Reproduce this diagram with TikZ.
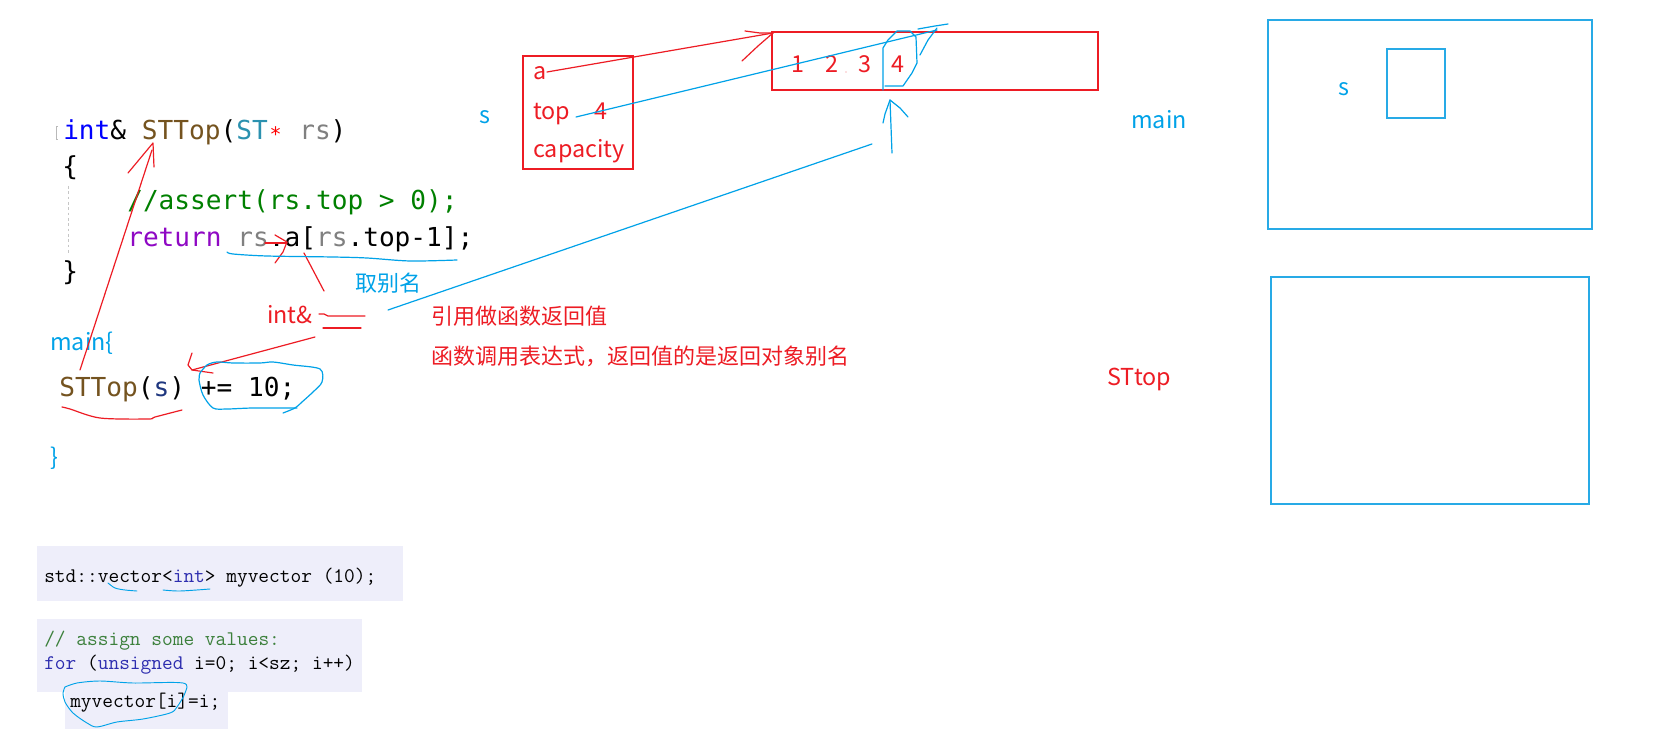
\documentclass[tikz,border=0pt]{standalone}
\usepackage{fontspec}
\usetikzlibrary{fit}
\newfontfamily\cjk{Noto Sans CJK SC}
\newfontfamily\codefont{DejaVu Sans Mono}
\definecolor{ared}{RGB}{237,28,36}
\definecolor{ablue}{RGB}{0,162,232}
\definecolor{kwblue}{RGB}{0,0,255}
\definecolor{fnbrown}{RGB}{116,83,31}
\definecolor{tyteal}{RGB}{43,145,175}
\definecolor{vgray}{RGB}{128,128,128}
\definecolor{cmgreen}{RGB}{0,128,0}
\definecolor{kwpurple}{RGB}{143,8,196}
\definecolor{pdark}{RGB}{31,55,127}
\definecolor{snipbg}{RGB}{238,238,250}
\definecolor{snipblue}{RGB}{45,45,175}
\definecolor{snipgreen}{RGB}{60,128,60}
\definecolor{boxblue}{RGB}{40,170,230}
\tikzset{
  code/.style={font=\codefont\fontsize{19.6}{24}\selectfont, anchor=base west, inner sep=0pt},
  ann/.style={font=\cjk\fontsize{16.5}{20}\selectfont, inner sep=0pt},
  annl/.style={font=\cjk\fontsize{17.5}{21}\selectfont, inner sep=0pt},
  snip/.style={font=\ttfamily\fontsize{15.6}{19}\selectfont, anchor=base west, inner sep=0pt},
  rstroke/.style={draw=ared, line width=0.9pt, line cap=round, line join=round},
  bstroke/.style={draw=ablue, line width=0.9pt, line cap=round, line join=round},
  redbox/.style={draw=ared, line width=1.1pt, inner sep=0pt},
  bluebox/.style={draw=boxblue, line width=1.4pt, inner sep=0pt},
  snipbox/.style={fill=snipbg, draw=none, inner sep=0pt}
}
\begin{document}
\begin{tikzpicture}[x=0.75pt,y=-0.75pt]
\fill[white] (0,0) rectangle (1660,745);
\useasboundingbox (0,0) rectangle (1660,745);

% ---------- code block ----------
\draw[gray!55, line width=0.6pt] (58,126) -- (56,126) -- (56,139) -- (58,139);
\draw[gray!45, line width=0.7pt, dash pattern=on 2pt off 2pt] (68,186) -- (68,254);
\node[code] (l1) at (63,140) {\textcolor{kwblue}{int}\& \textcolor{fnbrown}{STTop}(\textcolor{tyteal}{ST}\makebox[0.602em]{\raisebox{-1.5pt}{\textcolor{red}{\fontsize{15}{15}\selectfont *}}} \textcolor{vgray}{rs})};
\node[code] (l2) at (62,176) {\{};
\node[code] (l3) at (127,210) {\textcolor{cmgreen}{//assert(rs.top > 0);}};
\node[code] (l4) at (127,247) {\textcolor{kwpurple}{return} \textcolor{vgray}{rs}.a[\textcolor{vgray}{rs}.top-1];};
\node[code] (l5) at (62,281) {\}};
\node[code] (call) at (59,396) {\textcolor{fnbrown}{STTop}(\textcolor{pdark}{s}) += 10;};

% ---------- annotation texts ----------
\node[annl, text=ablue, anchor=base west] (smain) at (479,124) {s};
\node[annl, text=ablue, anchor=base west] (mainlbl) at (50,350) {main\{};
\node[annl, text=ablue, anchor=base west] (mainclose) at (50,465) {\}};
\node[annl, text=ared, anchor=base west] (intref) at (267,324) {int\&};
\node[ann, text=ablue, anchor=west] (alias) at (355,283) {取别名};
\node[ann, text=ared, anchor=west] (note1) at (431,316) {引用做函数返回值};
\node[ann, text=ared, anchor=west] (note2) at (431,356) {函数调用表达式，返回值的是返回对象别名};
\node[annl, text=ablue, anchor=west] (mainR) at (1131,120) {main};
\node[annl, text=ared, anchor=west] (sttopR) at (1107,379) {STtop};

% ---------- struct box ----------
\node[redbox, fit={(523,56) (633,169)}] (sbox) {};
\node[annl, text=ared, anchor=base west] (fa) at (533,80) {a};
\node[annl, text=ared, anchor=base west] (ftop) at (533,120) {top};
\node[annl, text=ared, anchor=base west] (fval) at (594,120) {4};
\node[annl, text=ared, anchor=base west] (fcap) at (533,158) {capacity};

% ---------- array box ----------
\node[redbox, fit={(772,32) (1098,90)}] (arr) {};
\node[annl, text=ared, anchor=base] (e1) at (798,73) {1};
\node[annl, text=ared, anchor=base] (e2) at (832,73) {2};
\node[annl, text=ared, anchor=base] (e3) at (865,73) {3};
\node[annl, text=ared, anchor=base] (e4) at (898,73) {4};
\fill[ared!60] (846,72) circle (0.6);

% ---------- right frames ----------
\node[bluebox, fit={(1268,20) (1592,229)}] (frameMain) {};
\node[bluebox, line width=1.1pt, fit={(1387,49) (1445,118)}] (frameS) {};
\node[annl, text=ablue] (sR) at (1344,89) {s};
\node[bluebox, fit={(1271,277) (1589,504)}] (frameTop) {};

% ---------- coordinates for strokes ----------
\coordinate (aStart) at (547,72);
\coordinate (aTip) at (773,33);
\coordinate (tStart) at (576,117);
\coordinate (tTip) at (937,30);
\coordinate (upBot) at (892,153);
\coordinate (upTip) at (890,100);
\coordinate (longA) at (388,310);
\coordinate (longB) at (872,144);
\coordinate (bigA) at (80,370);
\coordinate (bigB) at (152,150);
\coordinate (retA) at (315,337);
\coordinate (retB) at (192,370);

% red: a -> array
\draw[rstroke] (aStart) -- (aTip);
\draw[rstroke] (745,31) -- (760,33) -- (aTip);
\draw[rstroke] (aTip) -- (758,46) -- (742,61);
% blue: top -> element 4
\draw[bstroke] (tStart) -- (tTip);
\draw[bstroke] (918,29) -- (935,26) -- (948,24);
\draw[bstroke] (937,28) -- (928,40) -- (920,55);
% blue outline around 4
\draw[bstroke] (883,90) -- (883,48) -- (888,40) -- (897,31) -- (910,31) -- (916,37) -- (917,63) -- (912,73) -- (903,86) -- (885,86);
% blue up arrow
\draw[bstroke] (upBot) -- (upTip);
\draw[bstroke] (883,123) -- (885,114) -- (upTip) -- (900,108) -- (908,117);
% blue long line
\draw[bstroke] (longA) -- (longB);

% red arrow rs -> a
\draw[rstroke] (265,243) -- (287,243);
\draw[rstroke] (275,235) -- (287,242) -- (283,252) -- (275,263);
% red line from a[ down
\draw[rstroke] (304,253) -- (324,291);
% blue underline of rs.a[rs.top-1]
\draw[bstroke] plot[smooth] coordinates {(227,252) (233,254) (267,256) (333,257) (367,258) (410,261) (457,260)};
% red '=' marks
\draw[rstroke] (319,314) -- (324,314) -- (328,316) -- (365,316);
\draw[rstroke] (323,328) -- (361,328);
% red line int& -> STTop(s)
\draw[rstroke] (retA) -- (retB);
\draw[rstroke] (192,353) -- (188,365) -- (retB) -- (213,373);
% red big arrow STTop(s) -> STTop
\draw[rstroke] (bigA) -- (bigB);
\draw[rstroke] (128,173) -- (153,143) -- (154,167);
% red underline of STTop(s)
\draw[rstroke] plot[smooth] coordinates {(62,407) (70,409) (100,418) (148,419) (155,417) (182,410)};
% blue cloud around += 10;
\draw[bstroke] plot[smooth] coordinates {(200,373) (207,365) (217,362) (233,363) (260,363) (273,362) (293,365) (320,369) (322,382) (313,392) (302,402) (295,408) (283,413)};
\draw[bstroke] plot[smooth] coordinates {(297,408) (253,408) (227,409) (213,408) (203,395) (199,380) (200,373)};

% ---------- bottom snippets ----------
\node[snipbox, fit={(37,546) (403,601)}] (snip1) {};
\node[snipbox, fit={(37,619) (362,692)}] (snip2) {};
\node[snipbox, fit={(65,692) (228,729)}] (snip3) {};
\node[snip] (s1) at (44,582) {std::vector<\textcolor{snipblue}{int}> myvector (10);};
\node[snip] (s2) at (44,645) {\textcolor{snipgreen}{// assign some values:}};
\node[snip] (s3) at (44,669) {\textcolor{snipblue}{for} (\textcolor{snipblue}{unsigned} i=0; i<sz; i++)};
\node[snip] (s4) at (70,707) {myvector[i]=i;};
\draw[bstroke, line width=0.7pt] plot[smooth] coordinates {(108,583) (115,588) (125,590) (137,591)};
\draw[bstroke, line width=0.7pt] plot[smooth] coordinates {(163,590) (180,591) (210,589)};
\draw[bstroke, line width=0.7pt] plot[smooth] coordinates {(65,687) (77,683) (100,681) (133,683) (183,683) (185,693) (177,707) (170,713) (143,719) (117,722) (97,727) (87,723) (73,713) (65,702) (63,693) (65,687)};
\end{tikzpicture}
\end{document}
